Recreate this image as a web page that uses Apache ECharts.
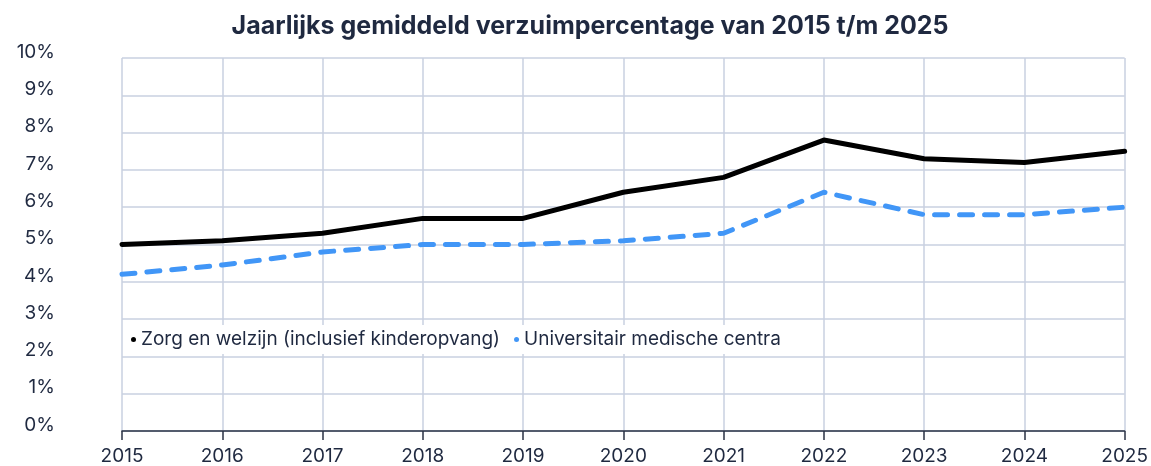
<!DOCTYPE html>
<html>
<head>
<meta charset="utf-8">
<script src="https://cdn.jsdelivr.net/npm/echarts@6/dist/echarts.min.js"></script>
<style>
html,body{margin:0;padding:0;background:#fff;}
#chart{width:1151px;height:466px;}
</style>
</head>
<body>
<div id="chart"></div>
<script>
const years = ['2015','2016','2017','2018','2019','2020','2021','2022','2023','2024','2025'];
const zorgWelzijn = [5.0, 5.1, 5.3, 5.7, 5.7, 6.4, 6.8, 7.8, 7.3, 7.2, 7.5];
const umc = [4.2, 4.45, 4.8, 5.0, 5.0, 5.1, 5.3, 6.4, 5.8, 5.8, 6.0];
const seriesNames = ['Zorg en welzijn (inclusief kinderopvang)', 'Universitair medische centra'];
const titleText = 'Jaarlijks gemiddeld verzuimpercentage van 2015 t/m 2025';

const textColor = '#1f2940';
const font = 'Inter, "Noto Sans", sans-serif';
const chart = echarts.init(document.getElementById('chart'), null, {renderer: 'canvas'});
chart.setOption({
  animation: false,
  backgroundColor: '#ffffff',
  title: {
    text: titleText,
    left: 585, textAlign: 'center', top: 9,
    textStyle: {fontFamily: font, fontSize: 25, fontWeight: 'bold', color: textColor}
  },
  legend: {
    left: 123, top: 325,
    backgroundColor: '#ffffff',
    padding: [5, 8, 5, 8],
    itemWidth: 5, itemHeight: 5, itemGap: 14,
    icon: 'circle',
    textStyle: {fontFamily: font, fontSize: 19, color: textColor},
    data: seriesNames
  },
  grid: {left: 122, right: 24, top: 58, bottom: 34, containLabel: false},
  xAxis: {
    type: 'category', data: years, boundaryGap: false,
    axisLine: {show: true, lineStyle: {color: '#2a3244', width: 1.5}},
    axisTick: {show: true, length: 9, lineStyle: {color: '#2a3244', width: 1.5}},
    axisLabel: {fontFamily: font, fontSize: 19, color: textColor, margin: 16},
    splitLine: {show: true, lineStyle: {color: '#c9d0e0', width: 1.5}}
  },
  yAxis: {
    type: 'value', min: 0, max: 10, interval: 1,
    axisLine: {show: false}, axisTick: {show: false},
    axisLabel: {fontFamily: font, fontSize: 19, color: textColor, margin: 67, formatter: '{value}%', verticalAlign: 'bottom', lineHeight: 12},
    splitLine: {show: true, lineStyle: {color: '#c9d0e0', width: 1.5}}
  },
  series: [
    {
      name: seriesNames[0], type: 'line', data: zorgWelzijn,
      symbol: 'none', color: '#000000',
      lineStyle: {color: '#000000', width: 5, join: 'round', cap: 'round'}
    },
    {
      name: seriesNames[1], type: 'line', data: umc,
      symbol: 'none', color: '#4196f7',
      lineStyle: {color: '#4196f7', width: 5, type: [13, 12], cap: 'round', join: 'round'}
    }
  ]
});
</script>
</body>
</html>
